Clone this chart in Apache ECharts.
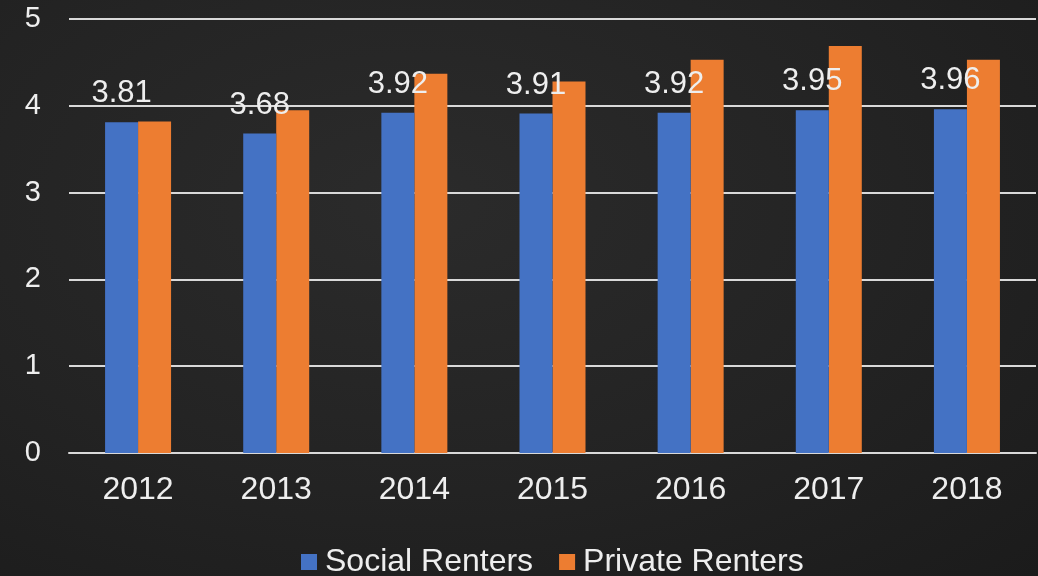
<!DOCTYPE html>
<html>
<head>
<meta charset="utf-8">
<script src="https://cdn.jsdelivr.net/npm/echarts@6/dist/echarts.min.js"></script>
<style>
html,body{margin:0;padding:0;background:#222;}
#c{width:1038px;height:576px;background:radial-gradient(ellipse at 40% 35%, #2b2b2b 0%, #232323 55%, #1b1b1b 100%);}
</style>
</head>
<body>
<div id="c"></div>
<script>
const categories = ['2012','2013','2014','2015','2016','2017','2018'];
const socialRenters = [3.81, 3.68, 3.92, 3.91, 3.92, 3.95, 3.96];
const privateRenters = [3.82, 3.95, 4.37, 4.28, 4.53, 4.69, 4.53];
const yTicks = [0, 1, 2, 3, 4, 5];

const FONT = '"Liberation Sans", Arial, sans-serif';
const TXT = '#eeeeee';
const chart = echarts.init(document.getElementById('c'), null, {renderer: 'canvas'});
chart.setOption({
  backgroundColor: 'transparent',
  animation: false,
  grid: {left: 69, right: 2, top: 19, bottom: 123, containLabel: false},
  legend: {
    top: 546, left: 301, padding: 0,
    itemWidth: 16, itemHeight: 16, itemGap: 26,
    icon: 'rect',
    textStyle: {color: TXT, fontSize: 32, fontFamily: FONT, lineHeight: 32, padding: [0, 0, 0, 3]},
    data: ['Social Renters', 'Private Renters']
  },
  xAxis: {
    type: 'category', data: categories,
    axisLine: {lineStyle: {color: '#d9d9d9', width: 2}},
    axisTick: {show: false},
    axisLabel: {color: TXT, fontSize: 32, fontFamily: FONT, margin: 21}
  },
  yAxis: {
    type: 'value', min: yTicks[0], max: yTicks[yTicks.length - 1], interval: 1,
    axisLine: {show: false}, axisTick: {show: false},
    axisLabel: {color: TXT, fontSize: 29, fontFamily: FONT, margin: 28},
    splitLine: {lineStyle: {color: '#d9d9d9', width: 2}}
  },
  series: [
    {
      name: 'Social Renters', type: 'bar', data: socialRenters,
      barWidth: 33, barGap: '0%',
      itemStyle: {color: '#4472C4'},
      label: {show: true, position: 'top', distance: 13, color: TXT, fontSize: 31, fontFamily: FONT,
              formatter: p => p.value.toFixed(2)},
      z: 2
    },
    {
      name: 'Private Renters', type: 'bar', data: privateRenters,
      barWidth: 33, barGap: '0%',
      itemStyle: {color: '#ED7D31'},
      z: 1
    }
  ]
});
</script>
</body>
</html>
